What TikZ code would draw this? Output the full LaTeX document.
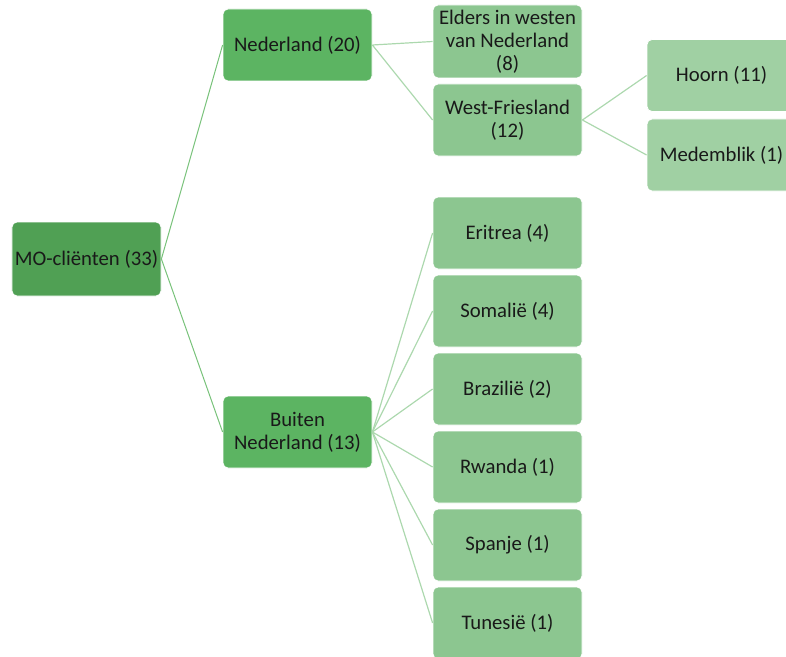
\documentclass[tikz,border=0pt]{standalone}
\usepackage{fontspec}
\setmainfont{Carlito}
\definecolor{rootgreen}{RGB}{80,160,84}
\definecolor{landgreen}{RGB}{92,180,98}
\definecolor{regiogreen}{RGB}{140,198,144}
\definecolor{stadgreen}{RGB}{160,208,163}
\definecolor{lijndonker}{RGB}{120,194,122}
\definecolor{lijnlicht}{RGB}{172,216,174}
\tikzset{
  box/.style={rounded corners=5bp,minimum width=149bp,minimum height=72bp,
    align=center,inner sep=1bp,draw=white,line width=.8bp,
    font=\fontsize{20.8}{23.1}\selectfont,text=black!90},
  rootbox/.style={box,fill=rootgreen,minimum height=74bp},
  landbox/.style={box,fill=landgreen},
  regiobox/.style={box,fill=regiogreen},
  stadbox/.style={box,fill=stadgreen},
  tak/.style={lijndonker,line width=1bp},
  twijg/.style={lijnlicht,line width=1.2bp}
}
\begin{document}
\begin{tikzpicture}[x=1bp,y=-1bp]
\useasboundingbox (0,0) rectangle (786,657);
% linker kolommen
\node[rootbox] (root) at (86.5,259) {MO-cliënten (33)};
\node[landbox] (ned) at (297.5,45) {Nederland (20)};
\node[landbox] (buiten) at (297.5,432) {Buiten\\Nederland (13)};
% Nederland
\node[regiobox,minimum height=73bp] (elders) at (507.5,41.5) {Elders in westen\\van Nederland\\(8)};
\node[regiobox] (wf) at (507.5,120) {West-Friesland\\(12)};
\node[stadbox] (hoorn) at (721.5,75.5) {Hoorn (11)};
\node[stadbox] (medemblik) at (721.5,155) {Medemblik (1)};
% buiten Nederland
\foreach \naam/\tekst/\y in {eritrea/Eritrea (4)/233,somalie/Somalië (4)/311,
  brazilie/Brazilië (2)/389,rwanda/Rwanda (1)/467,spanje/Spanje (1)/545,tunesie/Tunesië (1)/623}
{
  \node[regiobox] (\naam) at (507.5,\y) {\tekst};
  \draw[twijg] (buiten.east) -- (\naam.west);
}
\draw[tak] (root.east) -- (ned.west) (root.east) -- (buiten.west);
\draw[twijg] (ned.east) -- (elders.west) (ned.east) -- (wf.west);
\draw[twijg] (wf.east) -- (hoorn.west) (wf.east) -- (medemblik.west);
\end{tikzpicture}
\end{document}
